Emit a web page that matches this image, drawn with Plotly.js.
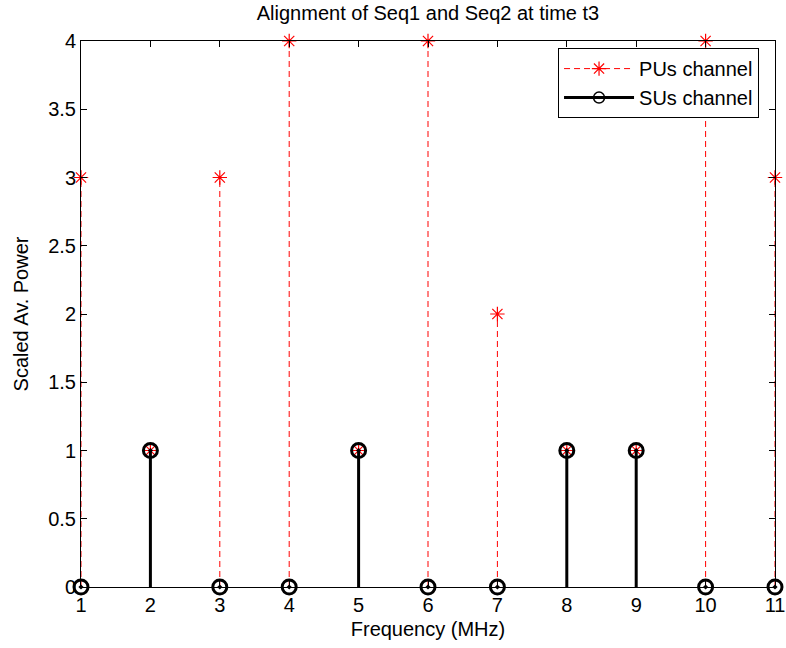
<!DOCTYPE html>
<html>
<head>
<meta charset="utf-8">
<script src="https://cdn.plot.ly/plotly-3.0.1.min.js"></script>
<style>
  html, body { margin: 0; padding: 0; background: #ffffff; }
  #chart { width: 786px; height: 648px; }
</style>
</head>
<body>
<div id="chart"></div>
<script>
// Channel index (frequency in MHz)
const frequency = [1, 2, 3, 4, 5, 6, 7, 8, 9, 10, 11];
// Scaled average power of primary users on each channel
const puPower = [3, 1, 3, 4, 1, 4, 2, 1, 1, 4, 3];
// Secondary users' channel occupation
const suPower = [0, 1, 0, 0, 1, 0, 0, 1, 1, 0, 0];

const xTicks = [1, 2, 3, 4, 5, 6, 7, 8, 9, 10, 11];
const yTicks = [0, 0.5, 1, 1.5, 2, 2.5, 3, 3.5, 4];
const yTickText = ['0', '0.5', '1', '1.5', '2', '2.5', '3', '3.5', '4'];

// Build vertical stem segments (baseline -> value) separated by gaps
function stems(xs, vs) {
  const sx = [], sy = [];
  xs.forEach((x, i) => {
    sx.push(x, x, null);
    sy.push(0, vs[i], null);
  });
  return { x: sx, y: sy };
}

const puStem = stems(frequency, puPower);
const suStem = stems(frequency, suPower);

const FONT = 'Liberation Sans, Arial, Helvetica, sans-serif';
const RED = '#ff0000';

const traces = [
  {
    x: puStem.x, y: puStem.y, mode: 'lines', type: 'scatter',
    line: { color: RED, width: 1, dash: '6px,4px' },
    hoverinfo: 'skip', showlegend: false, cliponaxis: false
  },
  {
    x: frequency, y: puPower, mode: 'markers', type: 'scatter',
    marker: { symbol: 'asterisk-open', size: 12, color: RED, line: { color: RED, width: 1.2 } },
    showlegend: false, cliponaxis: false
  },
  {
    x: suStem.x, y: suStem.y, mode: 'lines', type: 'scatter',
    line: { color: '#000000', width: 3 },
    hoverinfo: 'skip', showlegend: false, cliponaxis: false
  },
  {
    x: frequency, y: suPower, mode: 'markers', type: 'scatter',
    marker: { symbol: 'circle-open-dot', size: 14, color: '#000000', line: { color: '#000000', width: 3 } },
    showlegend: false, cliponaxis: false
  },
  // legend entries
  {
    x: [null], y: [null], mode: 'lines+markers', type: 'scatter', name: 'PUs channel',
    line: { color: RED, width: 1, dash: '6px,4px' },
    marker: { symbol: 'asterisk-open', size: 12, color: RED, line: { color: RED, width: 1.2 } }
  },
  {
    x: [null], y: [null], mode: 'lines+markers', type: 'scatter', name: 'SUs channel',
    line: { color: '#000000', width: 3 },
    marker: { symbol: 'circle-open-dot', size: 11, color: '#000000', line: { color: '#000000', width: 1.5 } }
  }
];

const layout = {
  width: 786,
  height: 648,
  margin: { l: 81, r: 11, t: 41, b: 61 },
  paper_bgcolor: '#ffffff',
  plot_bgcolor: '#ffffff',
  font: { family: FONT, size: 20, color: '#000000' },
  title: {
    text: 'Alignment of Seq1 and Seq2 at time t3',
    font: { family: FONT, size: 20, color: '#000000' },
    xref: 'paper', x: 0.5, xanchor: 'center',
    yref: 'container', y: 1 - 13 / 648, yanchor: 'middle'
  },
  xaxis: {
    range: [1, 11],
    tickvals: xTicks,
    ticktext: xTicks.map(String),
    ticks: 'inside', ticklen: 6, tickwidth: 1, tickcolor: '#000000',
    showline: true, linecolor: '#000000', linewidth: 1, mirror: 'ticks',
    showgrid: false, zeroline: false,
    tickfont: { family: FONT, size: 20 },
    title: { text: 'Frequency (MHz)', font: { family: FONT, size: 20 }, standoff: 6 }
  },
  yaxis: {
    range: [0, 4],
    tickvals: yTicks,
    ticktext: yTickText,
    ticks: 'inside', ticklen: 6, tickwidth: 1, tickcolor: '#000000',
    showline: true, linecolor: '#000000', linewidth: 1, mirror: 'ticks',
    showgrid: false, zeroline: false,
    tickfont: { family: FONT, size: 20 },
    title: { text: 'Scaled Av. Power', font: { family: FONT, size: 20 }, standoff: 14 }
  },
  legend: {
    x: 0.977, xanchor: 'right',
    y: 0.987, yanchor: 'top',
    bgcolor: '#ffffff',
    bordercolor: '#000000', borderwidth: 1,
    font: { family: FONT, size: 20, color: '#000000' },
    itemwidth: 70,
    tracegroupgap: 0
  },
  showlegend: true
};

Plotly.newPlot('chart', traces, layout, { displayModeBar: false, staticPlot: true });
</script>
</body>
</html>
